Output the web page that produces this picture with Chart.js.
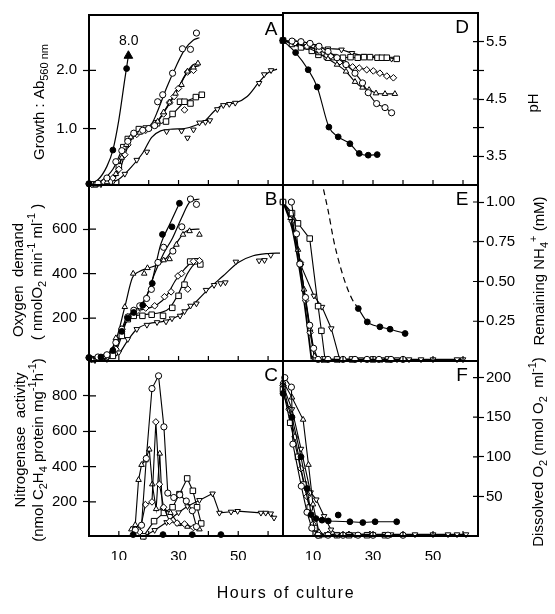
<!DOCTYPE html>
<html>
<head>
<meta charset="utf-8">
<script src="https://cdn.jsdelivr.net/npm/chart.js@4.4.0/dist/chart.umd.min.js"></script>
<style>
  body { margin: 0; background: #fff; }
  #wrap { position: relative; width: 555px; height: 614px; }
  #wrap canvas { position: absolute; left: 0; top: 0; }
  #xtitle { position: absolute; left: 0; width: 572px; top: 584px; text-align: center;
            font: 16px 'Liberation Sans', Arial, sans-serif; letter-spacing: 1.6px; color: #000; }
</style>
</head>
<body>
<div id="wrap">
  <canvas id="cA" width="555" height="614"></canvas>
  <canvas id="cB" width="555" height="614"></canvas>
  <canvas id="cC" width="555" height="614"></canvas>
  <canvas id="cD" width="555" height="614"></canvas>
  <canvas id="cE" width="555" height="614"></canvas>
  <canvas id="cF" width="555" height="614"></canvas>
  <div id="xtitle">Hours of culture</div>
</div>
<script>
// ---- data: [hours, value] ----
const xTicks = [10, 20, 30, 40, 50, 60];
const xLabels = [10, 30, 50];

// A: growth (Ab560)
const growthFilledCurve = [[0,0.05],[3,0.12],[6,0.35],[8,0.63],[10,1.15],[12,1.85],[13.2,2.25]];
const growthFilledPts = [[0,0.05],[8,0.63],[12.6,2.03]];
const growthArrow = [[13.2,2.25]];
const growthOpenCurve = [[0,0.05],[4,0.1],[8,0.3],[11,0.62],[14,0.85],[18,0.97],[21,1.08],[23,1.3],[26,1.7],[29,2.05],[32,2.35],[35,2.52],[37,2.56]];
const growthOpenPts = [[0,0.05],[3,0.06],[6,0.15],[9,0.43],[11,0.62],[13,0.78],[15,0.92],[18,0.97],[20,1.0],[22,1.05],[23,1.46],[24.7,1.58],[28,1.95],[31.3,2.37],[34,2.36],[36,2.64]];
const growthTriCurve = [[0,0.03],[5,0.07],[9,0.2],[11,0.5],[12.5,0.75],[15,0.88],[19,0.97],[23,1.12],[26,1.35],[29,1.6],[32,1.9],[35,2.1],[37,2.12]];
const growthTriPts = [[2,0.04],[6,0.08],[9,0.22],[11,0.5],[12.5,0.72],[14,0.85],[17,0.93],[20,1.0],[23,1.12],[25,1.28],[27,1.45],[29,1.6],[31,1.75],[33,1.98],[35,2.05],[36.5,2.12]];
const growthDiaCurve = [[0,0.04],[6,0.09],[10,0.25],[12,0.55],[14,0.8],[17,0.93],[21,1.02],[24,1.2],[27,1.45],[30,1.7],[33,1.97],[35,2.05],[37,2.08]];
const growthDiaPts = [[1,0.04],[5,0.08],[8,0.15],[10,0.3],[12,0.55],[13,0.72],[16,0.9],[19,0.97],[22,1.08],[25,1.25],[27,1.45],[28.5,1.55],[30,1.69],[32,1.32],[33,1.97],[35,2.0]];
const growthSqCurve = [[0,0.04],[7,0.1],[10,0.35],[12,0.7],[14,0.88],[18,0.98],[22,1.04],[26,1.14],[29,1.3],[32,1.45],[35,1.52],[38,1.58]];
const growthSqPts = [[2,0.04],[7,0.09],[10,0.35],[11.5,0.68],[13,0.82],[16.7,0.99],[19,1.0],[22.8,1.09],[25.8,1.12],[28,1.25],[30.5,1.46],[32,1.46],[34,1.43],[35.8,1.54],[37.8,1.58]];
const growthDownCurve = [[0,0.03],[6,0.05],[10,0.13],[14,0.33],[18,0.58],[21,0.85],[24,0.96],[28,0.99],[32,1.0],[36,1.06],[39,1.14],[42,1.3],[45,1.41],[49,1.44],[53,1.55],[57,1.8],[60,1.96],[63,2.02]];
const growthDownPts = [[4,0.04],[8,0.08],[12,0.22],[16,0.46],[19.4,0.6],[26,0.95],[31,0.96],[33,0.84],[35,0.98],[37,1.1],[39,1.11],[40.5,1.14],[43,1.33],[45,1.4],[47,1.42],[49,1.44],[57,1.78],[58.7,1.93],[61,2.0]];

// B: oxygen demand
const oxyFilledCurve = [[0,20],[5,30],[9,70],[12,170],[15,225],[18,265],[21,360],[24,530],[27,620],[30.3,716]];
const oxyFilledPts = [[0,22],[4,25],[8,55],[11,140],[13,200],[15,225],[18,258],[21.2,356],[24.6,576],[27.8,610],[30.3,716]];
const oxyOpenCurve = [[0,20],[6,35],[10,110],[13,200],[16,240],[19,290],[22,400],[25,490],[28,560],[31,650],[34,725],[37,735]];
const oxyOpenPts = [[0,22],[3,25],[6,35],[9,90],[11,150],[13,205],[15,235],[17,255],[19.3,288],[20.9,329],[23.1,450],[25,518],[28.1,501],[31.1,610],[34,735],[36,711]];
const oxyTriCurve = [[0,15],[5,25],[9,100],[12,250],[14.5,380],[17,410],[20,425],[23,440],[26,470],[29,530],[32,585],[34,598],[37,600]];
const oxyTriPts = [[1,15],[5,25],[9,110],[12,250],[14.8,400],[18.5,400],[19.6,425],[25,460],[27,465],[29.3,530],[31.5,575],[33.7,591],[37,575]];
const oxyDiaCurve = [[0,15],[6,25],[9,60],[11,150],[13,210],[16,232],[20,245],[23,262],[26,300],[29,370],[32,420],[35,455],[38,460]];
const oxyDiaPts = [[1,15],[6,25],[9,60],[11,150],[13,205],[16,230],[19,245],[22,255],[25.3,296],[27.5,318],[29.8,389],[31,400],[33.1,330],[35,455],[37,458]];
const oxySqCurve = [[0,15],[8,30],[11,120],[13,200],[16,212],[20,218],[24,225],[27,245],[30,310],[33,400],[36,450],[38,455]];
const oxySqPts = [[1,15],[8,30],[11,120],[13,195],[15,210],[17.9,210],[21,215],[24.8,210],[27.9,246],[30,300],[32,350],[33.9,454],[36,455],[37.3,441]];
const oxyDownCurve = [[0,10],[6,15],[10,40],[13,100],[16,150],[20,175],[25,185],[30,210],[35,262],[40,330],[45,390],[50,450],[55,480],[60,490],[64,492]];
const oxyDownPts = [[2,10],[6,15],[10,45],[13,105],[16,150],[19.4,169],[22.8,181],[25.8,184],[27.8,198],[30.5,210],[32,230],[34,255],[36,265],[39.2,326],[41.9,348],[44.1,356],[45.7,360],[49.2,453],[57,458],[58.8,460],[60.9,483]];

// C: nitrogenase activity
const nitroOpen = [[15.5,40],[17.6,68],[19.2,446],[21.1,842],[23.3,914],[25.1,625],[26.4,250],[28.4,225],[30.4,240],[32.6,205],[34.6,150],[36,60]];
const nitroDia = [[17,30],[18.9,185],[21.1,200],[22.4,653],[23.6,300],[25,170],[27,90],[29.5,80],[32,75],[35,55]];
const nitroTri = [[14.2,45],[15.5,70],[16.6,325],[17.6,410],[18.9,436],[20.2,497],[21.2,300],[22.5,160],[23.7,474],[24.6,165],[27.3,138],[30,75],[33,60],[37,45]];
const nitroSq = [[18.2,5],[21.8,91],[25.1,138],[28,170],[30.3,244],[32.9,333],[34.8,263],[36.2,170],[37.6,78]];
const nitroDown = [[18.5,5],[22,40],[26,85],[30,140],[33,175],[37,210],[41.4,247],[43.7,138],[47.6,144],[49.8,148],[57.6,138],[59.2,138],[60.9,134],[62,110]];
const nitroFilled = [[14.8,15],[24.8,15],[34.6,15],[44.2,15]];

// D: pH
const phFilled = [[0,5.52],[4.2,5.31],[8.4,5.01],[11.4,4.71],[15.3,4.01],[18.4,3.84],[22.3,3.72],[25.4,3.55],[28.4,3.52],[31.4,3.53]];
const phOpen = [[0,5.52],[3,5.51],[6,5.5],[9,5.47],[12,5.42],[15,5.33],[18,5.22],[21,5.1],[24,4.95],[26.5,4.78],[28.4,4.61],[31.2,4.42],[34,4.35],[36.2,4.26]];
const phDia = [[0,5.52],[4,5.48],[8,5.42],[12,5.35],[16,5.25],[19,5.15],[21,5.1],[23.2,5.06],[25.4,5.04],[27.9,5.01],[30.1,4.99],[32.3,4.95],[34.6,4.9],[36.8,4.87]];
const phTri = [[0,5.52],[4,5.47],[8,5.4],[12,5.3],[15,5.2],[18,5.1],[21,4.98],[24,4.8],[26.5,4.7],[28.7,4.66],[31,4.6],[34,4.59],[37.3,4.59]];
const phSq = [[0,5.52],[3,5.46],[6,5.4],[9.6,5.34],[11.8,5.27],[14.6,5.24],[17,5.23],[20,5.22],[22.5,5.23],[24.9,5.22],[27,5.23],[29,5.23],[31.5,5.22],[33,5.22],[34.6,5.22],[37.9,5.2]];
const phDown = [[0,5.52],[5,5.48],[10,5.42],[15,5.38],[19.5,5.36],[23,5.3],[27,5.25],[31,5.22],[36.2,5.2]];

// E: remaining NH4+
const nh4Dashed = [[13.5,1.08],[15,0.95],[17,0.75],[19,0.6],[21,0.48],[23,0.39],[25.1,0.33]];
const nh4FilledLate = [[25.1,0.33],[28.1,0.246],[32.3,0.215],[35.7,0.2],[40.7,0.173]];
const nh4FilledEarly = [[0,1.0],[3,0.84],[6,0.52],[8,0.24],[9.5,0.01]];
const nh4Open = [[2.8,1.0],[4.5,0.8],[5.6,0.61],[7.5,0.4],[8.9,0.225],[10.2,0.08],[11.7,0.01],[15,0.01],[20,0.01],[24,0.01],[28,0.01],[32,0.01],[36,0.01],[40,0.01]];
const nh4Sq = [[0,1.0],[3,0.93],[5,0.866],[8.9,0.77],[11.7,0.345],[12.8,0.19],[14,0.01],[18,0.01],[23,0.01],[30,0.01],[35,0.01]];
const nh4Down = [[0,1.0],[2.8,0.92],[6,0.6],[10.3,0.41],[13,0.34],[16.1,0.205],[18.9,0.01],[26,0.01],[33,0.01],[38,0.01],[42,0.01],[46,0.01],[50,0.01],[58,0.01],[60,0.01]];
const nh4Tri = [[0,1.0],[2.5,0.9],[5,0.7],[7,0.45],[9,0.2],[10.5,0.03],[12,0.01]];
const nh4Dia = [[0,1.0],[3,0.88],[5.8,0.62],[7.5,0.38],[9,0.18],[10.5,0.02],[13,0.01]];

// F: dissolved O2
const o2Filled = [[0,180],[3,150],[6,100],[8,60],[9.4,27],[11,22],[13,20],[15.1,19],[22.3,18],[26.6,17],[30.7,18],[37.9,18]];
const o2FilledExtra = [[18.4,26.5]];
const o2Open = [[0.6,200],[2.8,188],[3.3,116],[6.1,63],[8,30],[9.6,10],[11.7,1],[15,1],[20,1],[25,1],[30,1],[35,1],[40,1]];
const o2Tri = [[0,195],[3,175],[6.7,147],[8.5,90],[10,40],[12,5],[14,1]];
const o2Down = [[0,190],[3,160],[6,110],[9.2,55],[11.1,46],[13.7,25],[16,8],[18,2],[24,2],[30,2],[36,2],[44,2],[50,2],[55,2],[58,2],[61,2]];
const o2Sq = [[0,185],[2.4,143],[5,100],[7,65],[8.9,36],[10.5,10],[12,1],[18,1],[22,1],[28,1],[34,1]];
const o2Dia = [[0,190],[2,160],[4,125],[6,85],[8,50],[10,15],[11.5,2],[15,2],[22,2],[29,2]];

// y ticks
const ticksA = [1.0, 2.0];
const ticksB = [200, 400, 600];
const ticksC = [200, 400, 600, 800];
const ticksD = [3.5, 4.0, 4.5, 5.0, 5.5];
const labelsD = [3.5, 4.5, 5.5];
const ticksE = [0.25, 0.5, 0.75, 1.0];
const ticksF = [50, 100, 150, 200];

// ---- layout ----
const W = 555, H = 614;
const FONT = "'Liberation Sans', Arial, sans-serif";
const BOX = {
  A: { left: 89, right: 283, top: 13, bottom: 185 },
  B: { left: 89, right: 283, top: 185, bottom: 361 },
  C: { left: 89, right: 283, top: 361, bottom: 536 },
  D: { left: 283, right: 478, top: 13, bottom: 185 },
  E: { left: 283, right: 478, top: 185, bottom: 361 },
  F: { left: 283, right: 478, top: 361, bottom: 536 }
};

const toXY = arr => arr.map(([x, y]) => ({ x, y }));

const MARK = {
  filled:  { style: 'circle',   bg: '#000', r: 2.9 },
  open:    { style: 'circle',   bg: '#fff', r: 3.1 },
  tri:     { style: 'triangle', bg: '#fff', r: 3.2 },
  down:    { style: 'triangle', bg: '#fff', r: 3.2, rot: 180 },
  square:  { style: 'rect',     bg: '#fff', r: 3.9 },
  diamond: { style: 'rectRot',  bg: '#fff', r: 3.3 },
  arrow:   { style: 'triangle', bg: '#000', r: 5 }
};

function pts(data, kind, line) {
  const m = MARK[kind];
  return {
    data: toXY(data), showLine: !!line, borderColor: '#000', borderWidth: 1.1,
    tension: line === 'smooth' ? 0.4 : 0, cubicInterpolationMode: line === 'smooth' ? 'monotone' : 'default',
    pointStyle: m.style, rotation: m.rot || 0, pointRadius: m.r,
    pointBackgroundColor: m.bg, pointBorderColor: '#000', pointBorderWidth: 1,
    order: 0, clip: false
  };
}
function curve(data, extra) {
  return Object.assign({
    data: toXY(data), showLine: true, borderColor: '#000', borderWidth: 1.2,
    pointRadius: 0, tension: 0.4, cubicInterpolationMode: 'monotone', order: 1
  }, extra || {});
}

// rich rotated text: segments [text, 'sub'|'sup'|undefined]
function drawRich(ctx, segs, cx, cy, size) {
  ctx.save();
  ctx.translate(cx, cy);
  ctx.rotate(-Math.PI / 2);
  ctx.fillStyle = '#000';
  ctx.textBaseline = 'middle';
  ctx.textAlign = 'left';
  const fontOf = k => (k ? Math.round(size * 0.72) : size) + 'px ' + FONT;
  const widths = segs.map(([t, k]) => { ctx.font = fontOf(k); return ctx.measureText(t).width; });
  let x = -widths.reduce((a, b) => a + b, 0) / 2;
  segs.forEach(([t, k], i) => {
    ctx.font = fontOf(k);
    const dy = k === 'sub' ? size * 0.32 : k === 'sup' ? -size * 0.38 : 0;
    ctx.fillText(t, x, dy);
    x += widths[i];
  });
  ctx.restore();
}

const framePlugin = {
  id: 'frame',
  afterDraw(chart, args, o) {
    const { ctx, chartArea: a, scales } = chart;
    ctx.save();
    ctx.strokeStyle = '#000';
    ctx.lineWidth = 2;
    ctx.strokeRect(a.left, a.top, a.right - a.left, a.bottom - a.top);
    ctx.lineWidth = 1.2;
    ctx.beginPath();
    xTicks.forEach(v => {
      const px = scales.x.getPixelForValue(v);
      ctx.moveTo(px, a.bottom); ctx.lineTo(px, a.bottom - 5);
    });
    scales.y.ticks.forEach(t => {
      const py = scales.y.getPixelForValue(t.value);
      if (o.right) { ctx.moveTo(a.right, py); ctx.lineTo(a.right - 5, py); }
      else { ctx.moveTo(a.left, py); ctx.lineTo(a.left + 7, py); }
    });
    ctx.stroke();
    // panel letter
    ctx.fillStyle = '#000';
    ctx.font = '19px ' + FONT;
    ctx.textAlign = 'center';
    ctx.textBaseline = 'middle';
    ctx.fillText(o.letter, a.right - (o.right ? 16 : 12), a.top + 15);
    // notes at data coordinates
    (o.notes || []).forEach(n => {
      ctx.font = '14px ' + FONT;
      ctx.fillText(n.text, scales.x.getPixelForValue(n.x), scales.y.getPixelForValue(n.y));
    });
    ctx.restore();
    (o.titles || []).forEach(t => drawRich(ctx, t.segs, t.x, t.y, t.size || 15));
  }
};

function panel(canvasId, cfg) {
  const b = cfg.box, right = cfg.right;
  const yW = 52;
  const xH = cfg.showX ? 24 : 0;
  return new Chart(document.getElementById(canvasId), {
    type: 'scatter',
    data: { datasets: cfg.datasets },
    options: {
      responsive: false, animation: false, events: [],
      layout: { padding: {
        left: right ? b.left : b.left - yW,
        right: right ? W - b.right - yW : W - b.right,
        top: b.top,
        bottom: H - b.bottom - xH
      } },
      plugins: {
        legend: { display: false },
        tooltip: { enabled: false },
        frame: { letter: cfg.letter, right: right, titles: cfg.titles, notes: cfg.notes }
      },
      scales: {
        x: {
          type: 'linear', min: 0, max: 65, display: !!cfg.showX,
          afterFit: s => { s.height = xH; },
          afterBuildTicks: s => { s.ticks = xTicks.map(v => ({ value: v })); },
          grid: { display: false }, border: { display: false },
          ticks: { padding: 4, color: '#000', maxRotation: 0, autoSkip: false,
                   font: { family: FONT, size: 15 },
                   callback: v => xLabels.includes(v) ? String(v) : '' }
        },
        y: {
          type: 'linear', position: right ? 'right' : 'left',
          min: cfg.min, max: cfg.max,
          afterFit: s => { s.width = yW; },
          afterBuildTicks: s => { s.ticks = cfg.ticks.map(v => ({ value: v })); },
          grid: { display: right, drawOnChartArea: false, drawTicks: true, tickLength: 6,
                  tickColor: '#000', tickWidth: 1.2 },
          border: { display: false },
          ticks: { padding: right ? 2 : 6, color: '#000', autoSkip: false,
                   font: { family: FONT, size: 15 }, callback: cfg.fmt }
        }
      }
    },
    plugins: [framePlugin]
  });
}

panel('cA', {
  box: BOX.A, letter: 'A', min: 0.03, max: 2.95, ticks: ticksA, fmt: v => v.toFixed(1),
  titles: [{ x: 40, y: 102, segs: [['Growth : Ab'], ['560 nm', 'sub']] }],
  notes: [{ x: 13.3, y: 2.5, text: '8.0' }],
  datasets: [
    pts(growthArrow, 'arrow'),
    pts(growthFilledPts, 'filled'), pts(growthOpenPts, 'open'), pts(growthTriPts, 'tri'),
    pts(growthDiaPts, 'diamond'), pts(growthSqPts, 'square'), pts(growthDownPts, 'down'),
    curve(growthFilledCurve), curve(growthOpenCurve), curve(growthTriCurve),
    curve(growthDiaCurve), curve(growthSqCurve), curve(growthDownCurve)
  ]
});

panel('cB', {
  box: BOX.B, letter: 'B', min: 7, max: 798, ticks: ticksB, fmt: v => String(v),
  titles: [
    { x: 19, y: 280, segs: [['Oxygen  demand']] },
    { x: 38, y: 272, segs: [['( nmolO'], ['2', 'sub'], [' min'], ['-1', 'sup'], [' ml'], ['-1', 'sup'], [' )']] }
  ],
  datasets: [
    pts(oxyFilledPts, 'filled'), pts(oxyOpenPts, 'open'), pts(oxyTriPts, 'tri'),
    pts(oxyDiaPts, 'diamond'), pts(oxySqPts, 'square'), pts(oxyDownPts, 'down'),
    curve(oxyFilledCurve), curve(oxyOpenCurve), curve(oxyTriCurve),
    curve(oxyDiaCurve), curve(oxySqCurve), curve(oxyDownCurve)
  ]
});

panel('cC', {
  box: BOX.C, letter: 'C', min: 7, max: 998, ticks: ticksC, fmt: v => String(v), showX: true,
  titles: [
    { x: 21, y: 440, segs: [['Nitrogenase  activity']] },
    { x: 39, y: 450, segs: [['(nmol C'], ['2', 'sub'], ['H'], ['4', 'sub'], [' protein mg'], ['-1', 'sup'], ['h'], ['-1', 'sup'], [')']] }
  ],
  datasets: [
    pts(nitroFilled, 'filled'),
    pts(nitroOpen, 'open', true), pts(nitroDia, 'diamond', true), pts(nitroTri, 'tri', true),
    pts(nitroSq, 'square', true), pts(nitroDown, 'down', true)
  ]
});

panel('cD', {
  box: BOX.D, letter: 'D', right: true, min: 3.0, max: 6.0, ticks: ticksD,
  fmt: v => labelsD.includes(v) ? v.toFixed(1) : '',
  titles: [{ x: 534, y: 103, segs: [['pH']] }],
  datasets: [
    pts(phFilled, 'filled', 'smooth'), pts(phOpen, 'open', 'smooth'), pts(phDia, 'diamond', 'smooth'),
    pts(phTri, 'tri', 'smooth'), pts(phSq, 'square', 'smooth'), pts(phDown, 'down', 'smooth')
  ]
});

panel('cE', {
  box: BOX.E, letter: 'E', right: true, min: 0, max: 1.107, ticks: ticksE, fmt: v => v.toFixed(2),
  titles: [{ x: 540, y: 271, segs: [['Remaining NH'], ['4', 'sub'], ['+', 'sup'], [' (mM)']] }],
  datasets: [
    pts(nh4FilledLate, 'filled', 'smooth'),
    pts(nh4Open, 'open', true), pts(nh4Sq, 'square', true), pts(nh4Down, 'down', true),
    pts(nh4Tri, 'tri', true), pts(nh4Dia, 'diamond', true),
    curve(nh4FilledEarly, { borderWidth: 1.8, tension: 0 }),
    curve(nh4Dashed, { borderDash: [6, 4] })
  ]
});

panel('cF', {
  box: BOX.F, letter: 'F', right: true, min: 0, max: 221, ticks: ticksF, fmt: v => String(v), showX: true,
  titles: [{ x: 539, y: 452, segs: [['Dissolved O'], ['2', 'sub'], [' (nmol O'], ['2', 'sub'], ['  ml'], ['-1', 'sup'], [')']] }],
  datasets: [
    pts(o2Filled, 'filled', true), pts(o2FilledExtra, 'filled'),
    pts(o2Open, 'open', true), pts(o2Tri, 'tri', true), pts(o2Down, 'down', true),
    pts(o2Sq, 'square', true), pts(o2Dia, 'diamond', true)
  ]
});
</script>
</body>
</html>
